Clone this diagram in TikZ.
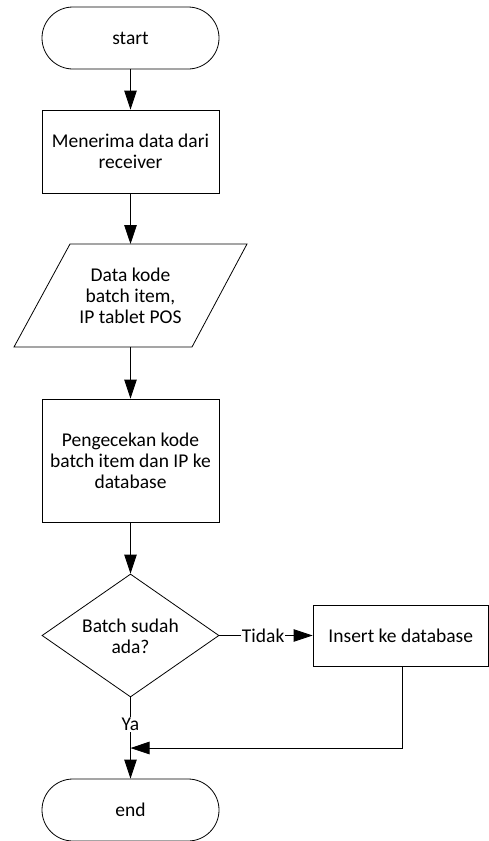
\documentclass[tikz,border=0pt]{standalone}
\usepackage{fontspec}
\setmainfont{Carlito}
\usetikzlibrary{arrows.meta,shapes.geometric}
\begin{document}
\begin{tikzpicture}[x=1pt,y=-1pt,
  every node/.style={font=\fontsize{19.5}{21}\selectfont, align=center, inner sep=0pt},
  term/.style={draw, line width=0.8pt, rounded corners=31pt, minimum width=177pt, minimum height=62pt},
  proc/.style={draw, line width=0.8pt, minimum width=177pt},
  flow/.style={line width=0.8pt, -{Triangle[length=19pt,width=12.5pt]}},
  lab/.style={fill=white, inner sep=1pt}
]
\useasboundingbox (0,0) rectangle (489,841);
\node[term] (start) at (130.5,38) {start};
\node[proc, minimum height=83pt] (recv) at (130.5,151.5) {Menerima data dari\\receiver};
\node (data) at (130.5,295.5) {Data kode\\batch item,\\IP tablet POS};
\draw[line width=0.8pt] (70,244) -- (247,244) -- (192,347) -- (14,347) -- cycle;
\coordinate (dataT) at (130.5,244);
\coordinate (dataB) at (130.5,347);
\node[proc, minimum height=123pt] (cek) at (130.5,460.5) {Pengecekan kode\\batch item dan IP ke\\database};
\node[draw, diamond, line width=0.8pt, minimum width=177pt, minimum height=123pt] (dec) at (130.5,635.5) {};
\node at (130.5,636) {Batch sudah\\ada?};
\node[draw, line width=0.8pt, minimum width=175.5pt, minimum height=61pt] (ins) at (400.75,635.5) {Insert ke database};
\node[term] (end) at (130.5,810) {end};
\coordinate (merge) at (402,748);
\draw[flow] (start) -- (recv);
\draw[flow] (recv) -- (dataT);
\draw[flow] (dataB) -- (cek);
\draw[flow] (cek) -- (dec);
\draw[flow] (dec.east) -- node[lab, pos=0.47] {Tidak} (ins.west);
\draw[flow] (dec.south) -- node[lab, pos=0.33] {Ya} (end.north);
\draw[flow] (ins.south -| merge) -- (merge) -- (merge -| end);
\end{tikzpicture}
\end{document}
